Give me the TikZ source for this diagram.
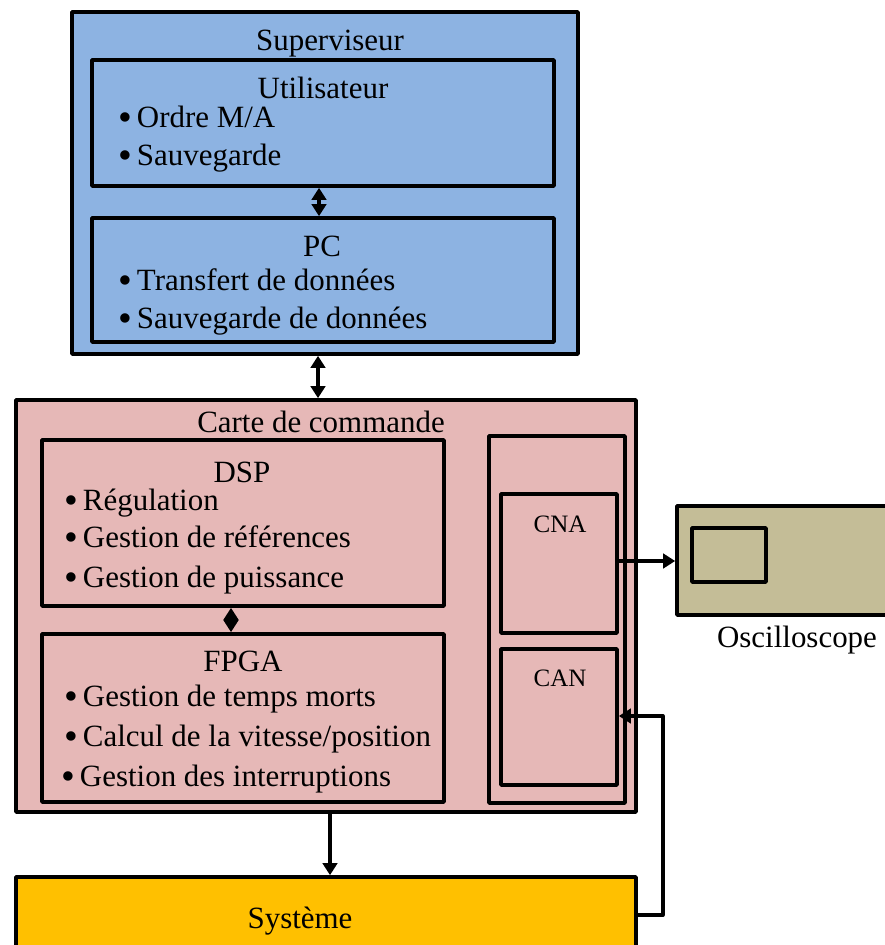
\documentclass[tikz,border=0pt]{standalone}
\usepackage{fontspec}
\setmainfont{Liberation Serif}
\usetikzlibrary{arrows.meta,fit}
\definecolor{bleu}{HTML}{8DB3E2}
\definecolor{rose}{HTML}{E6B8B7}
\definecolor{kaki}{HTML}{C4BD97}
\definecolor{jaune}{HTML}{FFC000}
\newcommand{\puce}{\raisebox{-2.2pt}{\fontsize{28}{28}\selectfont •}\kern 3.5pt}
\begin{document}
\begin{tikzpicture}[x=0.025cm, y=-0.025cm, line join=round,
	>={Triangle[length=0.3cm,width=0.36cm]},
	bloc/.style={draw, line width=2.6pt, inner sep=0pt},
	txt/.style={font=\fontsize{22}{26}\selectfont, inner sep=0pt, text height=0.7em, text depth=0.22em},
	petit/.style={font=\fontsize{17.8}{21}\selectfont, inner sep=0pt},
	item/.style={txt, anchor=west},
	fl/.style={line width=2.6pt, ->},
	dfl/.style={line width=2.6pt, <->}]
	\clip (0,0) rectangle (885,945);
	% blocs
	\node[bloc, fill=bleu, fit={(72,12) (578,354)}] (sup) {};
	\node[bloc, fill=bleu, fit={(92,60) (554,186)}] (util) {};
	\node[bloc, fill=bleu, fit={(92,218) (554,342)}] (pc) {};
	\node[bloc, fill=rose, fit={(16,400) (636,812)}] (carte) {};
	\node[bloc, fill=rose, fit={(42,440) (444,606)}] (dsp) {};
	\node[bloc, fill=rose, fit={(42,634) (444,802)}] (fpga) {};
	\node[bloc, fill=rose, fit={(489,436) (625,803)}] (conv) {};
	\node[bloc, fill=rose, fit={(501,494) (617,633)}] (cna) {};
	\node[bloc, fill=rose, fit={(501,649) (617,785)}] (can) {};
	\node[bloc, fill=kaki, fit={(677,506) (910,615)}] (osc) {};
	\node[bloc, fill=kaki, fit={(692,528) (766,582)}] (ecran) {};
	\node[bloc, fill=jaune, fit={(16,877) (636,970)}] (sys) {};
	% textes
	\node[txt] (tsup) at (330,47) {Superviseur};
	\node[txt] (tutil) at (323,95) {Utilisateur};
	\node[item] (u1) at (118,124) {\puce Ordre M/A};
	\node[item] (u2) at (118,162) {\puce Sauvegarde};
	\node[txt] (tpc) at (322,253) {PC};
	\node[item] (p1) at (118,287) {\puce Transfert de données};
	\node[item] (p2) at (118,325) {\puce Sauvegarde de données};
	\node[txt] (tcarte) at (321,429) {Carte de commande};
	\node[txt] (tdsp) at (242,479) {DSP};
	\node[item] (d1) at (64,507) {\puce Régulation};
	\node[item] (d2) at (64,544) {\puce Gestion de références};
	\node[item] (d3) at (64,584) {\puce Gestion de puissance};
	\node[txt] (tfpga) at (243,668) {FPGA};
	\node[item] (f1) at (64,703) {\puce Gestion de temps morts};
	\node[item] (f2) at (64,743) {\puce Calcul de la vitesse/position};
	\node[item] (f3) at (61,783) {\puce Gestion des interruptions};
	\node[petit] (tcna) at (560,524) {CNA};
	\node[petit] (tcan) at (560,678) {CAN};
	\node[txt] (tosc) at (797,644) {Oscilloscope};
	\node[txt] (tsys) at (300,925) {Système};
	% liaisons
	\draw[dfl] (util.south -| 319,0) -- (pc.north -| 319,0);
	\draw[dfl] (sup.south -| 318,0) -- (carte.north -| 318,0);
	\draw[dfl] (dsp.south -| 231,0) -- (fpga.north -| 231,0);
	\draw[fl] (carte.south -| 330,0) -- (sys.north -| 330,0);
	\draw[fl] (cna.east |- 0,561) -- (osc.west |- 0,561);
	\draw[fl] (sys.east |- 0,915) -- ++(25,0) |- (can.east |- 0,716);
\end{tikzpicture}
\end{document}
